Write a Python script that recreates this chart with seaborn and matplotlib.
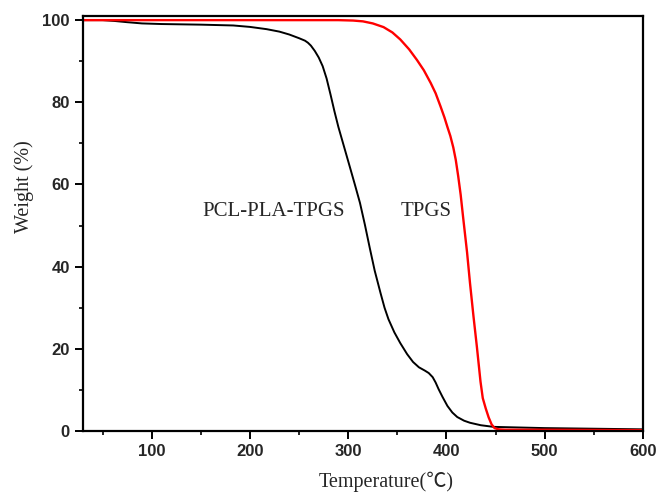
import matplotlib
matplotlib.use("Agg")
import matplotlib.pyplot as plt
from matplotlib.ticker import MultipleLocator
import seaborn as sns
import pandas as pd

# TGA curves: temperature (°C) vs. residual weight (%)
pcl_temp = [30, 50, 62, 75, 90, 110, 150, 183, 200, 217, 230, 240, 250, 256,
            259, 262, 266, 270, 274, 278, 282, 286, 290, 296, 302, 307, 312,
            317, 322, 327, 333, 337, 341, 347, 353, 360, 366, 372, 378, 382,
            386, 389, 392, 396, 401, 406, 411, 418, 424, 435, 448, 500, 600]
pcl_weight = [100, 100, 99.8, 99.5, 99.2, 99.05, 98.9, 98.7, 98.35, 97.8,
              97.2, 96.5, 95.6, 95.0, 94.5, 93.8, 92.5, 90.9, 88.8, 85.8,
              81.9, 77.8, 74.0, 69.0, 64.0, 59.8, 55.5, 50.2, 44.5, 39.0,
              33.5, 30.0, 27.2, 24.0, 21.4, 18.7, 16.8, 15.5, 14.7, 14.1,
              13.1, 11.8, 10.2, 8.3, 6.1, 4.5, 3.4, 2.5, 2.0, 1.4, 1.0, 0.7,
              0.4]

tpgs_temp = [30, 200, 290, 305, 315, 325, 336, 345, 353, 362, 370, 377, 384,
             389, 394, 398, 401, 404, 407, 409.5, 412, 414.5, 417, 421, 424,
             427.5, 431, 434.7, 437, 440, 443, 446, 449, 453, 460, 500, 600]
tpgs_weight = [100, 100, 100, 99.9, 99.7, 99.2, 98.3, 97.0, 95.3, 92.9, 90.3,
               87.8, 84.7, 82.2, 79.0, 76.3, 74.0, 71.8, 69.0, 66.0, 62.0,
               57.5, 52.0, 43.5, 36.0, 28.0, 20.5, 12.0, 8.0, 5.5, 3.3, 1.6,
               0.7, 0.4, 0.3, 0.3, 0.2]

series_names = ["PCL-PLA-TPGS", "TPGS"]
x_ticks = [100, 200, 300, 400, 500, 600]
y_ticks = [0, 20, 40, 60, 80, 100]

pcl = pd.DataFrame({"Temperature": pcl_temp, "Weight": pcl_weight})
tpgs = pd.DataFrame({"Temperature": tpgs_temp, "Weight": tpgs_weight})

sns.set_theme(style="ticks")
plt.rcParams["font.family"] = ["Liberation Serif", "Noto Sans CJK SC"]

fig = plt.figure(figsize=(6.56, 4.93), dpi=100)
ax = fig.add_axes([0.1265, 0.1258, 0.8535, 0.8417])

sns.lineplot(data=pcl, x="Temperature", y="Weight", sort=False, ax=ax,
             color="black", linewidth=1.4)
sns.lineplot(data=tpgs, x="Temperature", y="Weight", sort=False, ax=ax,
             color="#ff0000", linewidth=1.7)

ax.set_xlim(30, 600)
ax.set_ylim(0, 101)
ax.set_xticks(x_ticks)
ax.set_yticks(y_ticks)
ax.xaxis.set_minor_locator(MultipleLocator(50))
ax.yaxis.set_minor_locator(MultipleLocator(10))

ax.tick_params(which="major", direction="out", length=5.5, width=1.4,
               color="black", labelsize=12, pad=4)
ax.tick_params(which="minor", direction="out", length=3, width=1.2,
               color="black")
for lab in ax.get_xticklabels() + ax.get_yticklabels():
    lab.set_fontfamily("Liberation Sans")
    lab.set_fontweight("bold")

for side, spine in ax.spines.items():
    spine.set_visible(True)
    spine.set_color("black")
    spine.set_linewidth(1.6)

ax.set_xlabel("Temperature(\u2103)", fontsize=14.5)
ax.set_ylabel("Weight (%)", fontsize=14.5)
ax.xaxis.set_label_coords(0.541, -0.098)
ax.yaxis.set_label_coords(-0.087, 0.59)

ax.text(224.5, 53.5, series_names[0], fontsize=15, ha="center", va="center")
ax.text(379.6, 53.5, series_names[1], fontsize=15, ha="center", va="center")

fig.savefig("out.png", dpi=100)
